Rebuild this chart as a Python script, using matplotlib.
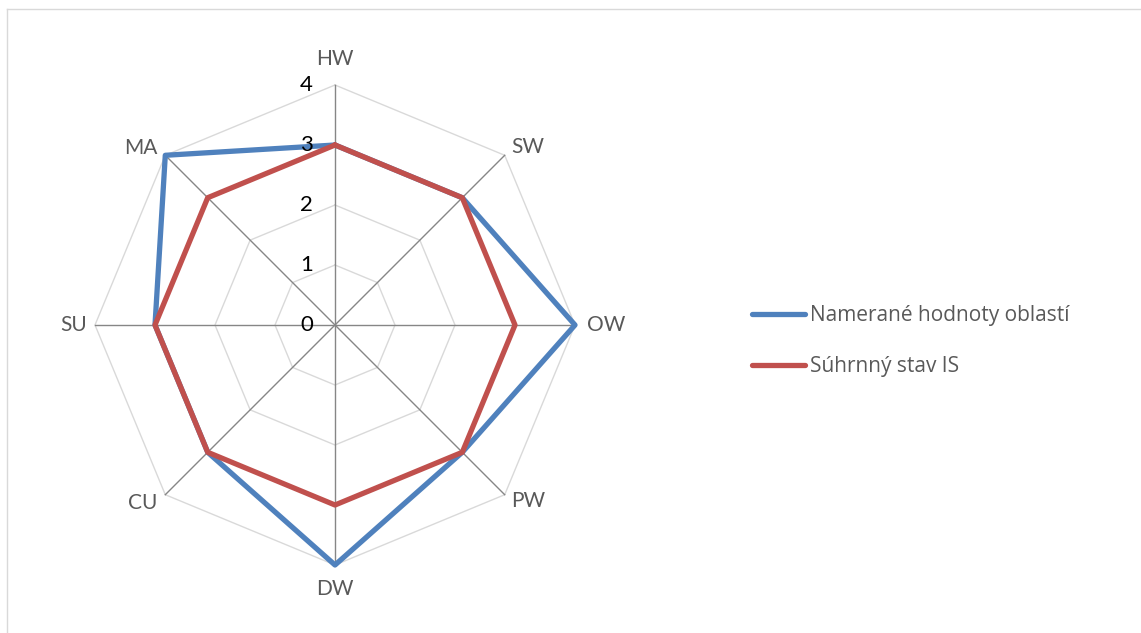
import matplotlib
matplotlib.use('Agg')
import matplotlib.pyplot as plt
import numpy as np

categories = ['HW', 'SW', 'OW', 'PW', 'DW', 'CU', 'SU', 'MA']
measured = [3, 3, 4, 3, 4, 3, 3, 4]
summary = [3, 3, 3, 3, 3, 3, 3, 3]
series_names = ['Namerané hodnoty oblastí', 'Súhrnný stav IS']
ticks = [0, 1, 2, 3, 4]

blue = '#4F81BD'
red = '#C0504D'
plt.rcParams['font.family'] = ['Lato', 'DejaVu Sans']

W, H = 1141, 633
fig = plt.figure(figsize=(W / 100, H / 100), dpi=100)
# axes placed so that centre sits at (335, 325) px and one unit = 60 px
ax = fig.add_axes([35 / W, 8 / H, 600 / W, 600 / H])
ax.set_xlim(-5, 5)
ax.set_ylim(-5, 5)
ax.axis('off')

n = len(categories)
ang = np.arange(n) * 2 * np.pi / n
sx = np.sin(ang)
cy = np.cos(ang)

def closed(vals):
    v = np.asarray(vals, float)
    x = v * sx
    y = v * cy
    return np.append(x, x[0]), np.append(y, y[0])

# polygon grid
for t in ticks[1:]:
    gx, gy = closed([t] * n)
    ax.plot(gx, gy, color='#D9D9D9', lw=1.0, zorder=1)
# spokes
rmax = ticks[-1]
for i in range(n):
    ax.plot([0, rmax * sx[i]], [0, rmax * cy[i]], color='#868686', lw=1.0, zorder=2)

# tick labels along vertical axis
for t in ticks:
    ax.annotate(str(t), (0, t), xytext=(-22, 0), textcoords='offset pixels',
                ha='right', va='center', fontsize=16, color='black', zorder=5)

# category labels
offsets = {'HW': (0, 16, 'center', 'bottom'), 'SW': (7, 8, 'left', 'center'),
           'OW': (12, 0, 'left', 'center'), 'PW': (6, -6, 'left', 'center'),
           'DW': (0, -14, 'center', 'top'), 'CU': (-8, -8, 'right', 'center'),
           'SU': (-8, 0, 'right', 'center'), 'MA': (-8, 7, 'right', 'center')}
for i, c in enumerate(categories):
    dx, dy, ha, va = offsets[c]
    ax.annotate(c, (rmax * sx[i], rmax * cy[i]), xytext=(dx, dy),
                textcoords='offset pixels', ha=ha, va=va, fontsize=15,
                color='#595959')

bx, by = closed(measured)
rx, ry = closed(summary)
l1, = ax.plot(bx, by, color=blue, lw=3.8, solid_joinstyle='round',
              solid_capstyle='round', zorder=3, label=series_names[0])
l2, = ax.plot(rx, ry, color=red, lw=3.8, solid_joinstyle='round',
              solid_capstyle='round', zorder=4, label=series_names[1])

leg = fig.legend(handles=[l1, l2], loc='center left',
                 bbox_to_anchor=(742 / W, 1 - 341 / H), frameon=False,
                 prop={'family': ['Open Sans', 'DejaVu Sans'], 'size': 15},
                 handlelength=2.5, handletextpad=0.25,
                 labelspacing=1.45, borderpad=0)
for txt in leg.get_texts():
    txt.set_color('#595959')

# chart border (only left and top visible in the crop)
fig.add_artist(plt.Line2D([6.5 / W, 6.5 / W], [0, 1 - 8.5 / H], color='#D9D9D9', lw=1.0))
fig.add_artist(plt.Line2D([6.5 / W, 1], [1 - 8.5 / H, 1 - 8.5 / H], color='#D9D9D9', lw=1.0))

fig.savefig('out.png', dpi=100)
